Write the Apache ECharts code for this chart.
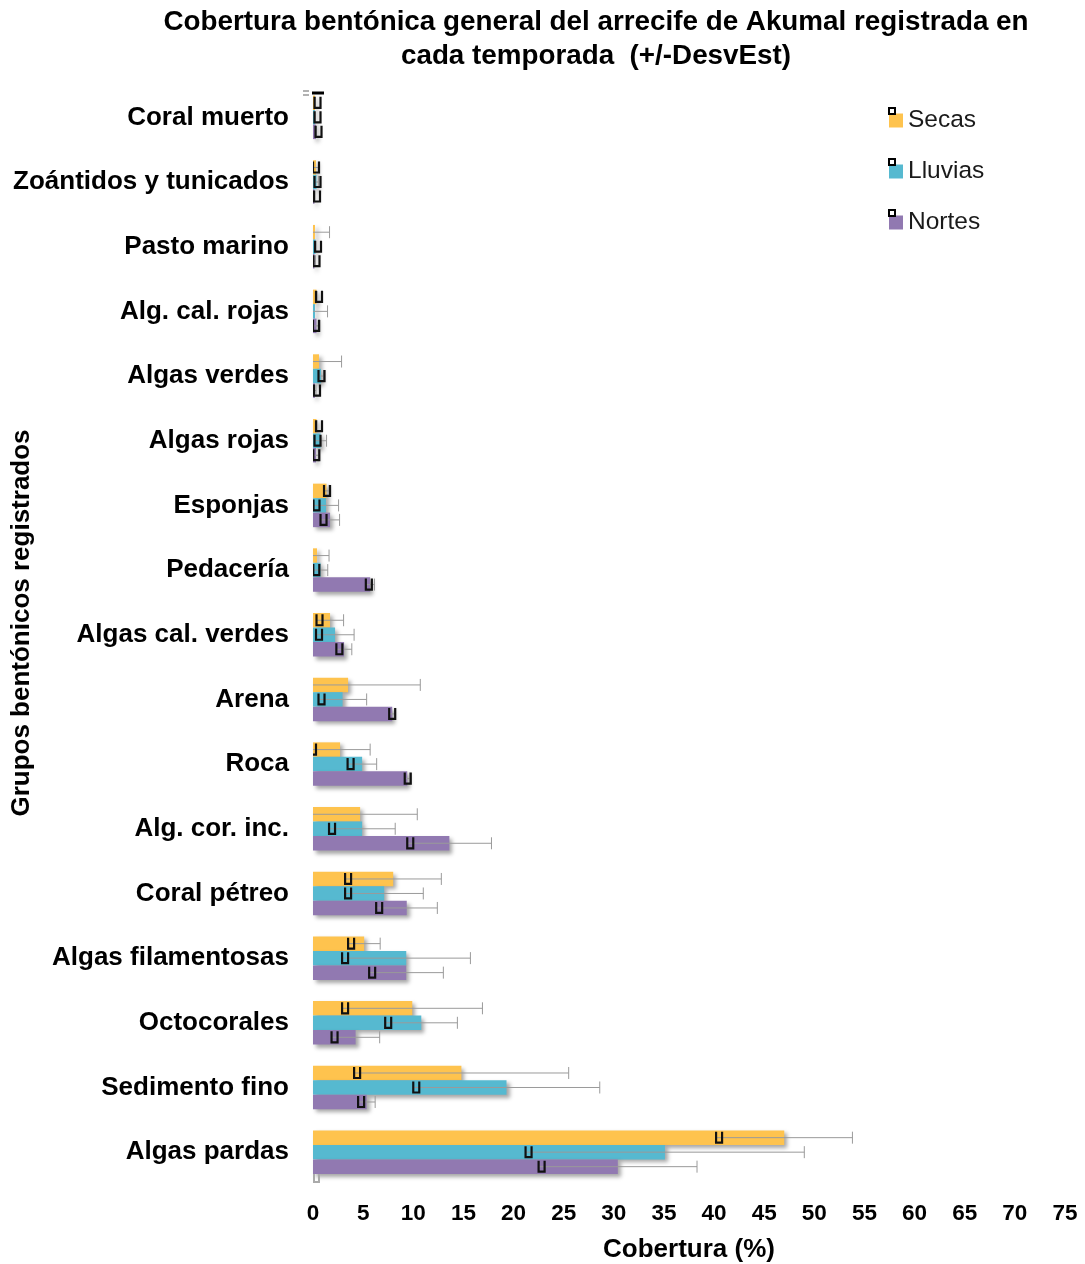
<!DOCTYPE html>
<html>
<head>
<meta charset="utf-8">
<script src="https://cdn.jsdelivr.net/npm/echarts@6/dist/echarts.min.js"></script>
<style>html,body{margin:0;padding:0;background:#fff}#c{width:1085px;height:1264px}</style>
</head>
<body>
<div id="c"></div>
<script>
const categories = ['Coral muerto','Zoántidos y tunicados','Pasto marino','Alg. cal. rojas','Algas verdes','Algas rojas','Esponjas','Pedacería','Algas cal. verdes','Arena','Roca','Alg. cor. inc.','Coral pétreo','Algas filamentosas','Octocorales','Sedimento fino','Algas pardas'];
const seasons = ['Secas','Lluvias','Nortes'];
const secas     = [0.2, 0.3, 0.2, 0.35, 0.6, 0.35, 1.35, 0.4, 1.7, 3.5, 2.7, 4.7, 8.0, 5.1, 9.9, 14.8, 47.0];
const secasSd   = [0.05, 0.3, 1.45, 0.05, 2.25, 0.05, 0.25, 1.2, 1.35, 7.2, 3.0, 5.7, 4.8, 1.6, 7.0, 10.7, 6.8];
const lluvias   = [0.2, 0.35, 0.25, 0.2, 0.8, 0.75, 1.3, 0.75, 2.2, 2.95, 4.9, 4.9, 7.1, 9.3, 10.8, 19.3, 35.1];
const lluviasSd = [0.05, 0.2, 0.05, 1.25, 0.25, 0.6, 1.25, 0.72, 1.9, 2.4, 1.45, 3.3, 3.9, 6.4, 3.6, 9.3, 13.9];
const nortes    = [0.3, 0.15, 0.15, 0.35, 0.2, 0.3, 1.7, 5.7, 3.1, 7.9, 9.4, 13.6, 9.35, 9.3, 4.25, 5.35, 30.4];
const nortesSd  = [0.05, 0.05, 0.1, 0.35, 0.1, 0.27, 0.95, 0.43, 0.77, 0.3, 0.25, 4.2, 3.05, 3.7, 2.4, 0.85, 7.9];
const xTicks = [0,5,10,15,20,25,30,35,40,45,50,55,60,65,70,75];

const colors = ['#FEC34E', '#56B9D0', '#9179B1'];
const means = [secas, lluvias, nortes];
const sds = [secasSd, lluviasSd, nortesSd];
const BAR_W = 14.5;
const FONT = '"Liberation Sans", Arial, Helvetica, sans-serif';

const chart = echarts.init(document.getElementById('c'), null, {renderer: 'canvas'});

const barSeries = seasons.map((name, k) => ({
  name: name,
  type: 'bar',
  data: means[k],
  barWidth: BAR_W,
  barGap: '0%',
  itemStyle: {
    color: colors[k],
    shadowColor: 'rgba(0,0,0,0.35)',
    shadowBlur: 4,
    shadowOffsetX: 3,
    shadowOffsetY: 3
  },
  z: 2
}));

const errSeries = seasons.map((name, k) => ({
  name: name + '_err',
  type: 'custom',
  z: 5,
  clip: true,
  encode: {y: 0, x: [1, 2]},
  data: means[k].map((m, i) => [i, m - sds[k][i], m + sds[k][i]]),
  renderItem: function (params, api) {
    const ci = api.value(0);
    const lo = api.value(1), hi = api.value(2);
    const c = api.coord([0, ci]);
    const yy = c[1] + (k - 1) * BAR_W;
    const x1 = api.coord([lo, ci])[0];
    const x2 = api.coord([hi, ci])[0];
    const left = api.coord([0, ci])[0];
    const cs = params.coordSys;
    return {
      type: 'group',
      children: [
        {type: 'line', shape: {x1: Math.max(x1, left - 2), y1: yy, x2: x2, y2: yy},
         style: {stroke: '#9a9a9a', lineWidth: 1}},
        {type: 'line', shape: {x1: x2, y1: yy - 6, x2: x2, y2: yy + 6},
         style: {stroke: '#9a9a9a', lineWidth: 1}},
        {type: 'polyline', shape: {points: [[x1, yy - 6], [x1, yy + 5], [x1 + 6, yy + 5], [x1 + 6, yy - 6]]},
         style: {stroke: '#111', lineWidth: 2.2, fill: null},
         clipPath: {type: 'rect', shape: {x: cs.x, y: cs.y, width: cs.width, height: cs.height}}}
      ]
    };
  }
}));

const option = {
  animation: false,
  backgroundColor: '#fff',
  grid: {left: 313, right: 20, top: 85, bottom: 79.5, containLabel: false, outerBoundsMode: 'none'},
  legend: {
    data: seasons,
    orient: 'vertical',
    left: 889,
    top: 107,
    padding: 0,
    itemWidth: 14,
    itemHeight: 14,
    itemGap: 24,
    icon: 'rect',
    textStyle: {fontFamily: FONT, fontSize: 24.5, color: '#1a1a1a', lineHeight: 22, padding: [5, 0, 0, 0]},
    selectedMode: false
  },
  xAxis: {
    type: 'value',
    min: 0,
    max: 75,
    interval: 5,
    splitLine: {show: false},
    axisLine: {show: false},
    axisTick: {show: false},
    axisLabel: {margin: 18, fontFamily: FONT, fontSize: 22.5, fontWeight: 'bold', color: '#000',
      formatter: v => xTicks.indexOf(v) >= 0 ? String(v) : ''},
    name: 'Cobertura (%)',
    nameLocation: 'middle',
    nameGap: 52,
    nameTextStyle: {fontFamily: FONT, fontSize: 26, fontWeight: 'bold', color: '#000'}
  },
  yAxis: {
    type: 'category',
    data: categories,
    inverse: true,
    axisLine: {show: false},
    axisTick: {show: false},
    splitLine: {show: false},
    axisLabel: {margin: 24, fontFamily: FONT, fontSize: 26, fontWeight: 'bold', color: '#000', padding: [4, 0, 0, 0]}
  },
  graphic: [
    {type: 'text', x: 596, y: 5, z: 10,
     style: {text: 'Cobertura bentónica general del arrecife de Akumal registrada en\ncada temporada  (+/-DesvEst)',
       fontFamily: FONT, fontSize: 27.8, fontWeight: 'bold', fill: '#000', textAlign: 'center', lineHeight: 34}},
    {type: 'text', x: 22, y: 623, rotation: Math.PI / 2, z: 10,
     style: {text: 'Grupos bentónicos registrados', fontFamily: FONT, fontSize: 26, fontWeight: 'bold',
       fill: '#000', textAlign: 'center', textVerticalAlign: 'middle'}},
    {type: 'rect', shape: {x: 889, y: 108, width: 6, height: 6}, style: {fill: null, stroke: '#000', lineWidth: 2}, z: 20},
    {type: 'rect', shape: {x: 889, y: 159, width: 6, height: 6}, style: {fill: null, stroke: '#000', lineWidth: 2}, z: 20},
    {type: 'rect', shape: {x: 889, y: 210, width: 6, height: 6}, style: {fill: null, stroke: '#000', lineWidth: 2}, z: 20},
    {type: 'line', shape: {x1: 312, y1: 93, x2: 324, y2: 93}, style: {stroke: '#000', lineWidth: 3}, z: 20},
    {type: 'line', shape: {x1: 303, y1: 91, x2: 309, y2: 91}, style: {stroke: '#999', lineWidth: 1.5}, z: 20},
    {type: 'line', shape: {x1: 303, y1: 95, x2: 309, y2: 95}, style: {stroke: '#999', lineWidth: 1.5}, z: 20},
    {type: 'polyline', shape: {points: [[314, 1174], [314, 1182], [319, 1182], [319, 1174]]}, style: {stroke: '#aaa', lineWidth: 2, fill: null}, z: 20}
  ],
  series: barSeries.concat(errSeries)
};
chart.setOption(option);
</script>
</body>
</html>
